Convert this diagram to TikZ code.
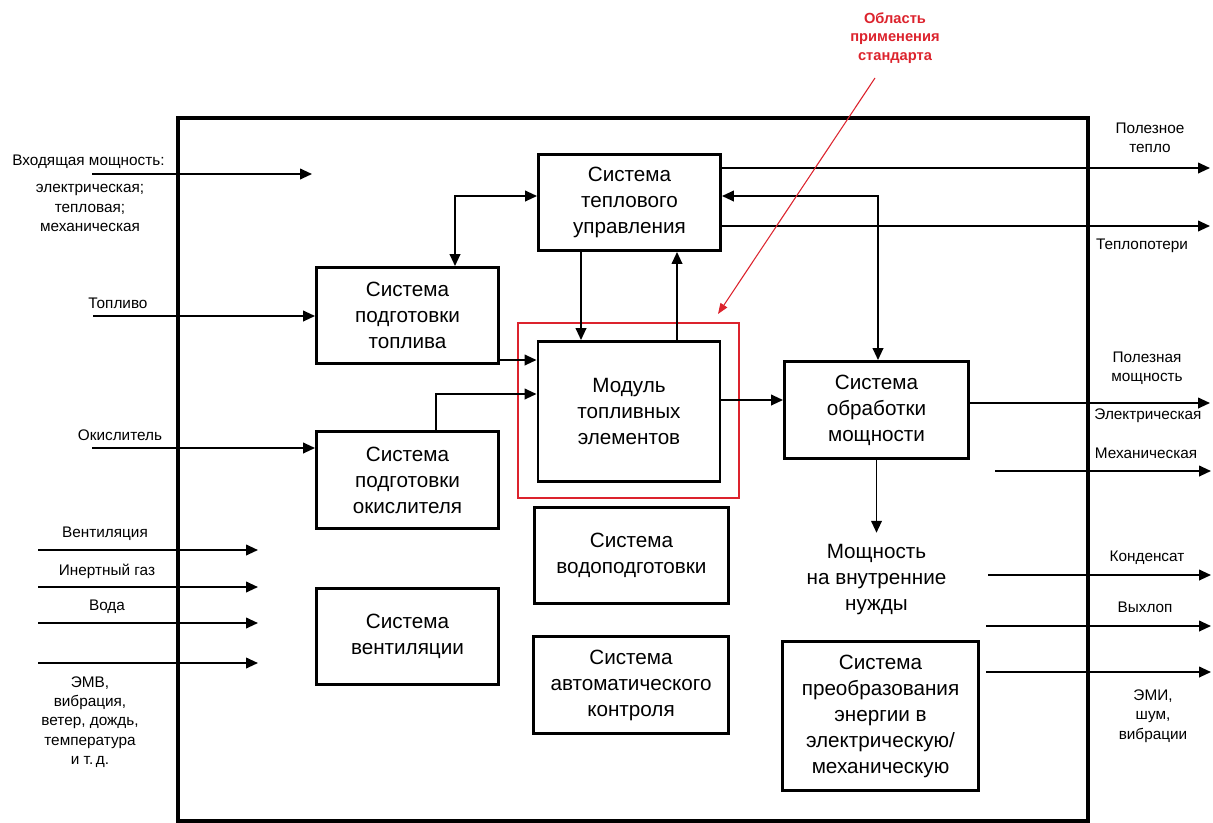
\documentclass[tikz,border=0pt]{standalone}
\usepackage{fontspec}
\setmainfont{Liberation Sans}
\usetikzlibrary{arrows.meta}
\definecolor{stdred}{RGB}{220,35,45}

\begin{document}
\begin{tikzpicture}[x=0.75pt, y=-0.75pt, >={Triangle[length=9pt,width=8pt]},
    blk/.style 2 args={draw, line width=2.2pt, align=center, inner sep=0pt,
      minimum width=#1*0.75pt, minimum height=#2*0.75pt,
      font=\fontsize{15.5}{19.5}\selectfont},
    txt/.style={align=center, inner sep=0pt, font=\fontsize{15.5}{19.5}\selectfont},
    lbl/.style={align=center, inner sep=0pt, font=\fontsize{11.5}{14.5}\selectfont},
    flow/.style={->, line width=1.4pt}]
  \useasboundingbox (0,0) rectangle (1213,822);

  % system boundary
  \draw[line width=3.4pt] (178,118) rectangle (1088,821);

  % subsystems
  \node[blk={182}{96}] (tm) at (629.5,202.5) {Система\\теплового\\управления};
  \node[blk={182}{96}] (fp) at (407.5,315.5) {Система\\подготовки\\топлива};
  \node[blk={182}{140}] (fc) at (629,411.5) {Модуль\\топливных\\элементов};
  \node[draw=stdred, line width=1.2pt, minimum width=165.75pt, minimum height=131.25pt] (area) at (628.5,410.5) {};
  \node[blk={182}{97}] (op) at (407.5,480) {Система\\подготовки\\окислителя};
  \node[blk={184}{97}] (pp) at (876.5,410) {Система\\обработки\\мощности};
  \node[blk={194}{96}] (wt) at (631.5,555.5) {Система\\водоподготовки};
  \node[blk={182}{96}] (vt) at (407.5,636.5) {Система\\вентиляции};
  \node[blk={195}{97}] (ac) at (631,685) {Система\\автоматического\\контроля};
  \node[blk={196}{149}] (pc) at (880.5,716) {Система\\преобразования\\энергии в\\электрическую/\\механическую};
  \node[txt, outer ysep=9pt] (need) at (876.5,580) {Мощность\\на внутренние\\нужды};

  % internal flows
  \coordinate (lk) at (455,196);
  \coordinate (rk) at (878,196);
  \draw[flow, <->] (tm.west |- lk) -- (lk) -- (lk |- fp.north);
  \draw[flow, <->] (tm.east |- rk) -- (rk) -- (rk |- pp.north);
  \coordinate (dn) at (581,300);
  \coordinate (up) at (677,300);
  \draw[flow] (tm.south -| dn) -- (fc.north -| dn);
  \draw[flow] (fc.north -| up) -- (tm.south -| up);
  \coordinate (fin) at (520,360);
  \draw[flow] (fp.east |- fin) -- (fc.west |- fin);
  \coordinate (ob) at (436,394);
  \draw[flow] (op.north -| ob) -- (ob) -- (fc.west |- ob);
  \coordinate (pw) at (750,400);
  \draw[flow] (fc.east |- pw) -- (pp.west |- pw);
  \draw[flow] (pp.south) -- (need.north);

  % inputs
  \coordinate (pwrA) at (92,174);
  \coordinate (pwrB) at (312,174);
  \draw[flow] (pwrA) -- (pwrB);
  \coordinate (fuelIn) at (93,316);
  \draw[flow] (fuelIn) -- (fp.west |- fuelIn);
  \coordinate (oxIn) at (92,448);
  \draw[flow] (oxIn) -- (op.west |- oxIn);
  \foreach \y [count=\i] in {550,587,623,663} {
    \coordinate (envA\i) at (38,\y);
    \coordinate (envB\i) at (258,\y);
    \draw[flow] (envA\i) -- (envB\i);
  }

  % outputs
  \coordinate (heatOut) at (1210,168);
  \coordinate (lossOut) at (1210,226);
  \coordinate (powOut) at (1210,403);
  \draw[flow] (tm.east |- heatOut) -- (heatOut);
  \draw[flow] (tm.east |- lossOut) -- (lossOut);
  \draw[flow] (pp.east |- powOut) -- (powOut);
  \foreach \xa/\y [count=\i] in {995/471,988/575,986/626,986/672} {
    \coordinate (outA\i) at (\xa,\y);
    \coordinate (outB\i) at (1211,\y);
    \draw[flow] (outA\i) -- (outB\i);
  }

  % labels
  \node[lbl, anchor=west] (pwrLbl) at (12,162) {Входящая мощность:};
  \node[lbl] (pwrKinds) at (90,208) {электрическая;\\тепловая;\\механическая};
  \node[lbl] (fuelLbl) at (118,303) {Топливо};
  \node[lbl] (oxLbl) at (120,435) {Окислитель};
  \node[lbl] (ventLbl) at (105,534) {Вентиляция};
  \node[lbl] (gasLbl) at (107,571) {Инертный газ};
  \node[lbl] (waterLbl) at (107,607) {Вода};
  \node[lbl] (envLbl) at (90,722) {ЭМВ,\\вибрация,\\ветер, дождь,\\температура\\и т.\,д.};
  \node[lbl] (heatLbl) at (1150,138) {Полезное\\тепло};
  \node[lbl] (lossLbl) at (1142,246) {Теплопотери};
  \node[lbl] (usefulLbl) at (1147,368) {Полезная\\мощность};
  \node[lbl] (elLbl) at (1148,416) {Электрическая};
  \node[lbl] (mechLbl) at (1146,453) {Механическая};
  \node[lbl] (condLbl) at (1147,558) {Конденсат};
  \node[lbl] (exhLbl) at (1145,607) {Выхлоп};
  \node[lbl] (emiLbl) at (1153,716) {ЭМИ,\\шум,\\вибрации};

  % scope of the standard
  \node[lbl, text=stdred, font=\bfseries\fontsize{11}{14}\selectfont] (areaLbl) at (895,38) {Область\\применения\\стандарта};
  \coordinate (areaFrom) at (875,78);
  \coordinate (areaTip) at (718,314);
  \draw[stdred, line width=0.8pt, -{Triangle[length=8pt,width=6pt]}] (areaFrom) -- (areaTip);
\end{tikzpicture}
\end{document}
